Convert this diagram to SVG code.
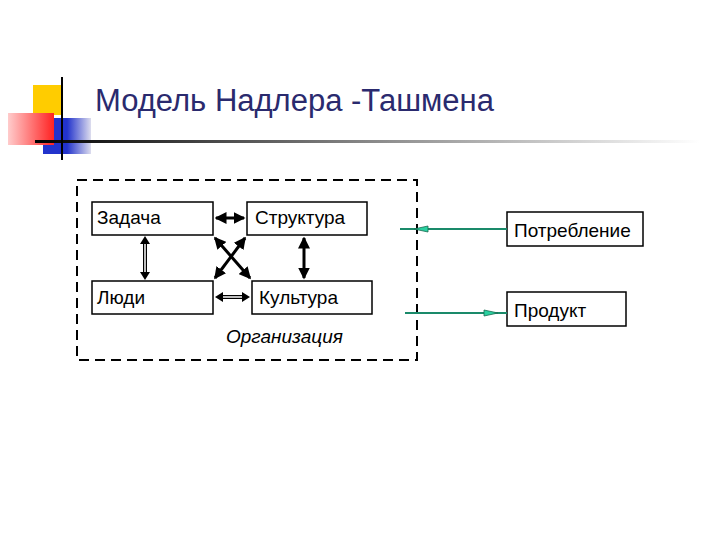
<svg xmlns="http://www.w3.org/2000/svg" width="720" height="540" viewBox="0 0 720 540">
<style>
.b{fill:#fff;stroke:#000;stroke-width:1.5}
.t{font-family:"Liberation Sans",Arial,sans-serif;font-size:19px;fill:#000}
.k{stroke:#000;stroke-width:3;fill:none}
.d{stroke:#000;stroke-width:4;fill:none}
.di{stroke:#fff;stroke-width:1.5;fill:none}
</style>
<defs>
<marker id="a" markerWidth="4" markerHeight="4" refX="3.5" refY="2" orient="auto-start-reverse" markerUnits="strokeWidth"><path d="M0,0L4,2L0,4z" fill="#000"/></marker>
<linearGradient id="hl" x1="0" x2="1"><stop offset="0" stop-color="#000"/><stop offset="0.5" stop-color="#888"/><stop offset="1" stop-color="#fff"/></linearGradient>
<linearGradient id="rd" x1="1" x2="0"><stop offset="0" stop-color="#f22"/><stop offset="1" stop-color="#fcc"/></linearGradient>
<linearGradient id="bl" x1="0" x2="1"><stop offset="0.5" stop-color="#2233cc"/><stop offset="1" stop-color="#dde"/></linearGradient>
</defs>
<g id="deco">
<rect x="33" y="85" width="28" height="30" fill="#ffcc00"/>
<rect x="43" y="118" width="48" height="36" fill="url(#bl)"/>
<rect x="8" y="113" width="46" height="32" fill="url(#rd)"/>
<rect x="35" y="140" width="665" height="3" fill="url(#hl)"/>
<line x1="62" y1="77" x2="62" y2="160" stroke="#000" stroke-width="2"/>
</g>
<text x="95" y="111" font-family="Liberation Sans,Arial,sans-serif" font-size="31" fill="#2a2a6e">Модель Надлера -Ташмена</text>
<g id="org">
<rect x="77" y="180" width="340" height="180" fill="none" stroke="#000" stroke-width="2" stroke-dasharray="10,6"/>
<text x="226" y="343" class="t" font-style="italic">Организация</text>
</g>
<g id="zadacha"><rect class="b" x="92" y="202" width="121" height="33"/><text class="t" x="97" y="224">Задача</text></g>
<g id="struktura"><rect class="b" x="247" y="202" width="120" height="33"/><text class="t" x="255" y="224">Структура</text></g>
<g id="lyudi"><rect class="b" x="92" y="281" width="121" height="33"/><text class="t" x="97" y="304">Люди</text></g>
<g id="kultura"><rect class="b" x="252" y="281" width="120" height="33"/><text class="t" x="259" y="304">Культура</text></g>
<g id="potreb"><rect class="b" x="507" y="212" width="136" height="34"/><text class="t" x="514" y="237">Потребление</text></g>
<g id="produkt"><rect class="b" x="507" y="292" width="119" height="34"/><text class="t" x="514" y="317">Продукт</text></g>
<g id="connectors">
<line class="k" x1="216" y1="218" x2="244" y2="218" marker-start="url(#a)" marker-end="url(#a)"/>
<line class="k" x1="304" y1="238" x2="304" y2="278" marker-start="url(#a)" marker-end="url(#a)"/>
<line class="k" x1="215" y1="238" x2="250" y2="278" marker-start="url(#a)" marker-end="url(#a)"/>
<line class="k" x1="245" y1="238" x2="215" y2="278" marker-start="url(#a)" marker-end="url(#a)"/>
<line class="d" x1="145" y1="240" x2="145" y2="277"/><line class="di" x1="145" y1="240" x2="145" y2="277"/>
<path d="M145,236l-5,8h10z M145,280l-5,-8h10z" fill="#000"/>
<line class="d" x1="220" y1="297" x2="245" y2="297"/><line class="di" x1="220" y1="297" x2="245" y2="297"/>
<path d="M215,297l8,-5v10z M250,297l-8,-5v10z" fill="#000"/>
<line x1="507" y1="229" x2="400" y2="229" stroke="#1a8a6a" stroke-width="2"/>
<path d="M428,226l-14,3l14,3z" fill="#2ad0a0" stroke="#1a6a50" stroke-width="0.8"/>
<line x1="405" y1="313" x2="507" y2="313" stroke="#1a8a6a" stroke-width="2"/>
<path d="M484,310l14,3l-14,3z" fill="#2ad0a0" stroke="#1a6a50" stroke-width="0.8"/>
</g>
</svg>
